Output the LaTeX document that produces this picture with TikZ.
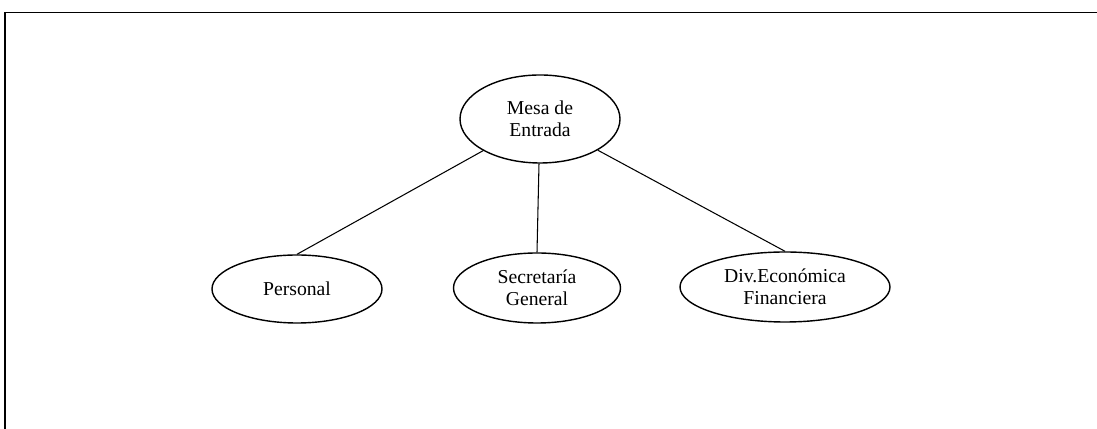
\documentclass[tikz,border=0pt]{standalone}
\usepackage{fontspec}
\setmainfont{Liberation Serif}
\usetikzlibrary{shapes.geometric}
\begin{document}
\begin{tikzpicture}[x=1cm,y=1cm,
  oval/.style={draw, ellipse, line width=0.8pt, inner sep=0pt, align=center,
    font=\fontsize{11.2}{12.6}\selectfont}]
\useasboundingbox (0,0) rectangle (21.94,8.58);
\draw[line width=1.1pt] (0.10,0) -- (0.10,8.33) -- (21.94,8.33);
\node[oval, minimum width=3.2cm, minimum height=1.76cm] (mesa) at (10.80,6.20) {Mesa de\\Entrada};
\node[oval, minimum width=3.4cm, minimum height=1.36cm] (pers) at (5.94,2.80) {Personal};
\node[oval, minimum width=3.34cm, minimum height=1.40cm] (secr) at (10.74,2.82) {Secretaría\\General};
\node[oval, minimum width=4.2cm, minimum height=1.40cm] (divec) at (15.70,2.84) {Div.Económica\\Financiera};
\draw[line width=0.6pt] (mesa) -- (pers.north);
\draw[line width=0.6pt] (mesa) -- (secr.north);
\draw[line width=0.6pt] (mesa) -- (divec.north);
\end{tikzpicture}
\end{document}
